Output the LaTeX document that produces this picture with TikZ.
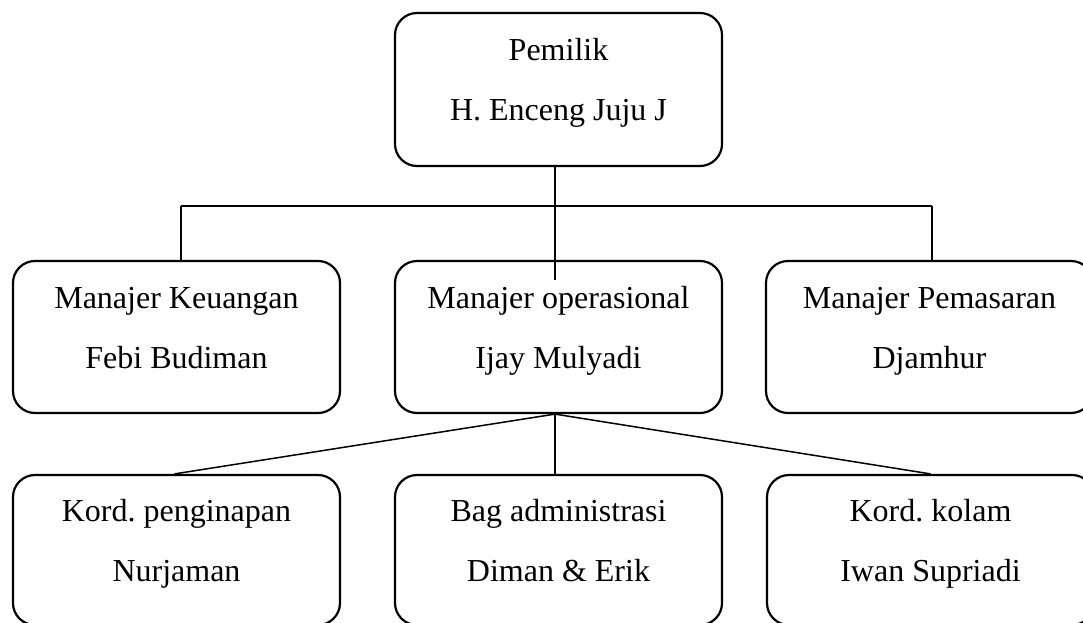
\documentclass[tikz,border=0pt]{standalone}
\usepackage{fontspec}
\setmainfont{Liberation Serif}
\frenchspacing
\newcommand\lnS{\rule[-20pt]{0pt}{42pt}}
\begin{document}
\begin{tikzpicture}[x=1pt,y=-1pt,
  box/.style={draw, line width=2.2pt, rounded corners=22pt,
    minimum width=327pt, minimum height=152pt, inner sep=0pt,
    align=center, font=\fontsize{32}{60}\selectfont\frenchspacing},
  link/.style={line width=1.5pt}]
\useasboundingbox (0,0) rectangle (1083,623);
% boxes
\node[box, minimum height=153pt] (own) at (558.5,89.5) {\lnS Pemilik\\\lnS H. Enceng Juju J};
\node[box] (keu) at (176.5,337) {\lnS Manajer Keuangan\\\lnS Febi Budiman};
\node[box] (ops) at (558.5,337) {\lnS Manajer operasional\\\lnS Ijay Mulyadi};
\node[box] (pem) at (929.5,337) {\lnS Manajer Pemasaran\\\lnS Djamhur};
\node[box, minimum height=150pt] (pgn) at (176.5,550) {\lnS Kord. penginapan\\\lnS Nurjaman};
\node[box, minimum height=150pt] (adm) at (558.5,550) {\lnS Bag administrasi\\\lnS Diman \& Erik};
\node[box, minimum height=150pt] (klm) at (930.5,550) {\lnS Kord. kolam\\\lnS Iwan Supriadi};
% junction coordinates
\coordinate (jl) at (181,206);
\coordinate (jc) at (555,206);
\coordinate (jr) at (932,206);
\coordinate (cin) at (555,280);
% connectors
\draw[link] (own.south -| jc) -- (cin);
\draw[link] (jl) -- (jr);
\draw[link] (jl) -- (keu.north -| jl);
\draw[link] (jr) -- (pem.north -| jr);
\draw[link] (ops.south -| jc) -- ([xshift=-2pt]pgn.north);
\draw[link] (ops.south -| jc) -- (adm.north -| jc);
\draw[link] (ops.south -| jc) -- (klm.north);
\end{tikzpicture}
\end{document}
